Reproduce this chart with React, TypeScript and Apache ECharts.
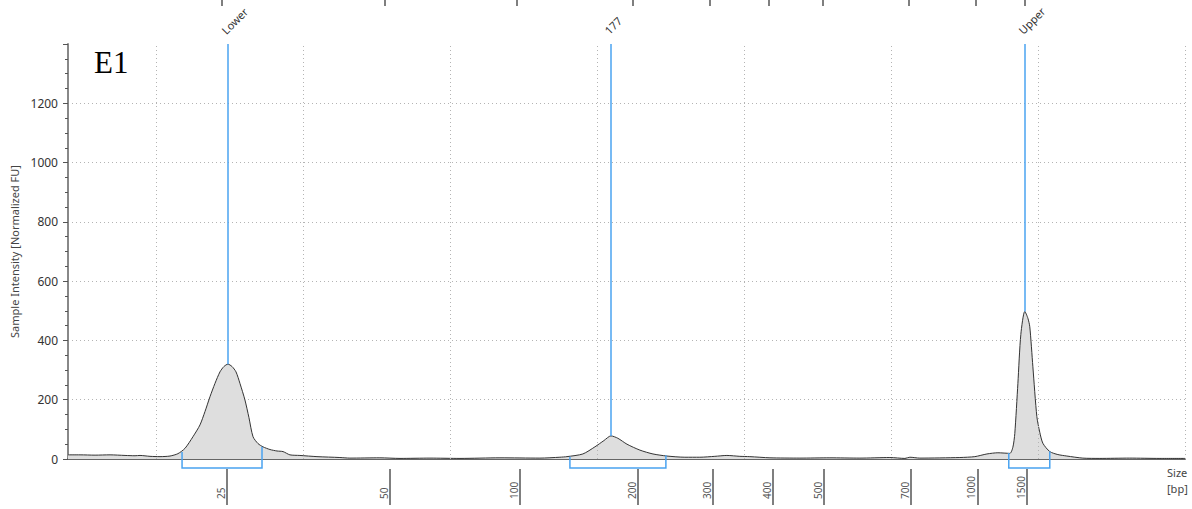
import React, { useEffect, useRef } from "react";
import * as echarts from "echarts";

// migration position (arbitrary run units) and intensity [Normalized FU]
const traceX = [
  4.0, 4.82, 5.84, 6.86, 7.88, 8.56, 8.9, 9.58, 10.26, 10.94, 11.48, 11.96, 12.5, 12.98, 13.32, 13.66, 14.0, 14.34,
  14.61, 14.88, 15.16, 15.43, 15.7, 16.04, 16.31, 16.59, 16.93, 17.27, 17.74, 18.22, 18.63, 19.1, 19.78, 20.94,
  22.5, 23.18, 25.22, 26.59, 28.63, 30.67, 33.39, 36.11, 37.47, 37.95, 39.03, 39.85, 40.46, 40.94, 41.41, 42.03,
  42.91, 43.8, 44.75, 45.97, 46.99, 48.01, 48.83, 49.71, 50.39, 51.76, 53.8, 55.84, 57.88, 59.92, 60.94, 61.28,
  61.96, 64.68, 65.7, 66.52, 67.27, 68.08, 68.29, 68.42, 68.63, 68.83, 69.1, 69.31, 69.44, 69.65, 69.92, 70.12,
  70.33, 70.8, 71.35, 71.96, 73.05, 74.2, 76.24, 78.29, 80.0,
];
const traceY = [
  14, 14, 13, 14, 12, 11, 12, 9, 8, 10, 18, 36, 75, 115, 160, 210, 255, 294,
  312, 320, 312, 294, 255, 199, 140, 75, 52, 41, 32, 27, 25, 14, 12, 8,
  5, 3, 4, 2, 3, 2, 4, 3, 6, 8, 17, 41, 62, 78, 70, 50,
  30, 17, 10, 6, 6, 9, 12, 9, 8, 4, 3, 4, 3, 5, 2, 6,
  3, 5, 8, 17, 21, 19, 40, 86, 255, 420, 498, 475, 446, 311, 143, 90,
  53, 25, 15, 10, 3, 2, 3, 2, 2,
];

const gridLinesX = [10, 20, 30, 40, 50, 60, 70, 80];
const sizeTickPos = [14.82, 25.9, 34.75, 42.76, 47.88, 51.94, 55.43, 61.33, 65.88, 69.22];
const sizeTickLabels = ["25", "50", "100", "200", "300", "400", "500", "700", "1000", "1500"];
const ladderTickPos = [14.48, 25.56, 34.54, 42.44, 47.64, 51.65, 55.33, 61.21, 65.77, 69.07];

const peakNames = ["Lower", "177", "Upper"];
const peakPos = [14.88, 40.94, 69.1];
const peakHeight = [320, 78, 498];

const regionStart = [11.76, 38.15, 68.01];
const regionEnd = [17.2, 44.68, 70.8];
const regionStartVal = [24, 8, 20];
const regionEndVal = [41, 13, 25];
const regionBottomVal = -30;

const X_MIN = 4;
const X_MAX = 80;
const Y_MAX = 1400;

const BLUE = "#4aa3f0";
const FONT = '"Noto Sans", "Open Sans", sans-serif';

const labelOf = (positions: number[], labels: string[]) => (v: number) => {
  const i = positions.findIndex((p) => Math.abs(p - v) < 1e-6);
  return i >= 0 ? labels[i] : "";
};

export default function App() {
  const ref = useRef<HTMLDivElement>(null);

  useEffect(() => {
    if (!ref.current) return;
    const chart = echarts.init(ref.current, undefined, { renderer: "svg" });

    const option: any = {
      animation: false,
      grid: { left: 68, right: 7, top: 44, bottom: 50 },
      xAxis: [
        {
          type: "value",
          min: X_MIN,
          max: X_MAX,
          axisLine: { show: true, onZero: true, lineStyle: { color: "#666", width: 2 } },
          axisTick: { show: false },
          axisLabel: { show: false },
          splitLine: { show: false },
        },
        {
          type: "value",
          min: X_MIN,
          max: X_MAX,
          position: "bottom",
          offset: 10,
          axisLine: { show: false },
          splitLine: { show: false },
          axisTick: {
            show: true,
            customValues: sizeTickPos,
            length: 36,
            lineStyle: { color: "#555", width: 1.5 },
          },
          axisLabel: {
            show: true,
            customValues: sizeTickPos,
            formatter: labelOf(sizeTickPos, sizeTickLabels),
            rotate: 90,
            align: "left",
            verticalAlign: "bottom",
            margin: 30,
            fontSize: 10,
            fontFamily: FONT,
            color: "#555",
            padding: [0, 0, 1, 0],
          },
        },
        {
          type: "value",
          min: X_MIN,
          max: X_MAX,
          position: "top",
          offset: 38,
          axisLine: { show: false },
          splitLine: { show: false },
          axisTick: {
            show: true,
            customValues: ladderTickPos,
            length: 6,
            lineStyle: { color: "#555", width: 1.5 },
          },
          axisLabel: { show: false },
        },
      ],
      yAxis: {
        type: "value",
        min: 0,
        max: Y_MAX,
        interval: 200,
        name: "Sample Intensity [Normalized FU]",
        nameLocation: "middle",
        nameGap: 47,
        nameTextStyle: { fontSize: 11, color: "#444", fontFamily: FONT },
        axisLine: { show: true, lineStyle: { color: "#888", width: 2 } },
        axisTick: { show: true, length: 5, lineStyle: { color: "#555" } },
        minorTick: { show: true, splitNumber: 4, length: 3, lineStyle: { color: "#555" } },
        axisLabel: {
          fontSize: 12,
          fontFamily: FONT,
          color: "#333",
          margin: 10,
          formatter: (v: number) => (v >= Y_MAX ? "" : String(v)),
        },
        splitLine: {
          show: true,
          showMinLine: false,
          showMaxLine: false,
          lineStyle: { color: "#b4b4b4", type: [1, 3], width: 1 },
        },
      },
      series: [
        {
          type: "line",
          xAxisIndex: 0,
          yAxisIndex: 0,
          data: traceX.map((x, i) => [x, traceY[i]]),
          symbol: "none",
          showSymbol: false,
          smooth: 0.25,
          lineStyle: { color: "#333", width: 1 },
          areaStyle: { color: "#dedede", opacity: 1 },
          z: 2,
          markLine: {
            silent: true,
            symbol: ["none", "none"],
            label: { show: false },
            animation: false,
            data: [
              ...gridLinesX.map((v) => ({
                xAxis: v,
                lineStyle: { color: "#b4b4b4", type: [1, 3], width: 1 },
              })),
              ...peakPos.map((p, i) => [
                { coord: [p, Y_MAX], lineStyle: { color: BLUE, width: 1.5, type: "solid" } },
                { coord: [p, peakHeight[i]] },
              ]),
            ],
          },
        },
      ],
    };

    chart.setOption(option);

    const toPx = (x: number, y: number) =>
      chart.convertToPixel({ xAxisIndex: 0, yAxisIndex: 0 }, [x, y]) as number[];

    const graphics: any[] = [];
    graphics.push({
      type: "text",
      x: 94,
      y: 47,
      style: { text: "E1", font: '31px "Liberation Serif", serif', fill: "#000", align: "left", verticalAlign: "top" },
      z: 10,
    });
    peakPos.forEach((p, i) => {
      const top = toPx(p, Y_MAX);
      graphics.push({
        type: "text",
        x: top[0] - 4.5,
        y: top[1] - 12,
        rotation: Math.PI / 4,
        style: {
          text: peakNames[i],
          font: `11px ${FONT}`,
          fill: "#333",
          align: "left",
          verticalAlign: "middle",
        },
        z: 10,
      });
    });
    regionStart.forEach((s, i) => {
      const a = toPx(s, regionStartVal[i]);
      const b = toPx(s, regionBottomVal);
      const c = toPx(regionEnd[i], regionBottomVal);
      const d = toPx(regionEnd[i], regionEndVal[i]);
      graphics.push({
        type: "polyline",
        shape: { points: [a, b, c, d] },
        style: { stroke: BLUE, lineWidth: 1.5, fill: null },
        z: 10,
      });
    });
    graphics.push({
      type: "text",
      x: 1167,
      y: 472,
      style: { text: "Size", font: `11px ${FONT}`, fill: "#444", align: "left", verticalAlign: "middle" },
      z: 10,
    });
    graphics.push({
      type: "text",
      x: 1167,
      y: 488,
      style: { text: "[bp]", font: `11px ${FONT}`, fill: "#444", align: "left", verticalAlign: "middle" },
      z: 10,
    });

    chart.setOption({ graphic: graphics });

    return () => {
      chart.dispose();
    };
  }, []);

  return (
    <div
      ref={ref}
      style={{ position: "absolute", left: 0, top: 0, width: 1192, height: 509, background: "#fff" }}
    />
  );
}
